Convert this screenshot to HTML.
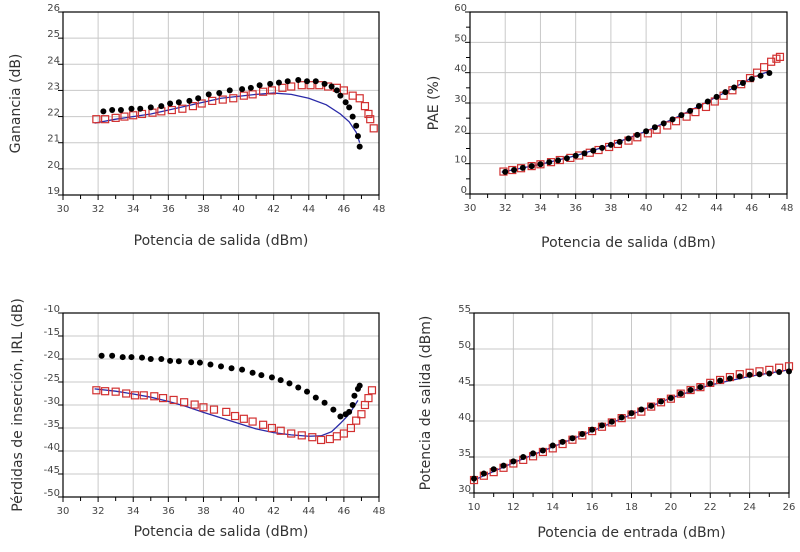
<!DOCTYPE html>
<html><head><meta charset="utf-8"><style>
body{margin:0;background:#fff;width:800px;height:547px;overflow:hidden;font-family:"Liberation Sans",sans-serif}
svg text{font-family:"DejaVu Sans","Liberation Sans",sans-serif}
</style></head><body>
<svg id="s" width="800" height="547"></svg>
<script>
// Chart 1: Ganancia
const c1Black=[[32.3,22.2],[32.8,22.25],[33.3,22.25],[33.9,22.3],[34.4,22.3],[35,22.35],[35.6,22.4],[36.1,22.5],[36.6,22.55],[37.2,22.6],[37.7,22.7],[38.3,22.85],[38.9,22.9],[39.5,23.0],[40.2,23.05],[40.7,23.1],[41.2,23.2],[41.8,23.25],[42.3,23.3],[42.8,23.35],[43.4,23.4],[43.9,23.35],[44.4,23.35],[44.9,23.25],[45.3,23.15],[45.6,23.0],[45.8,22.8],[46.1,22.55],[46.3,22.35],[46.5,22.0],[46.7,21.65],[46.8,21.25],[46.9,20.85]];
const c1Red=[[31.9,21.9],[32.4,21.9],[33,21.95],[33.5,22.0],[34,22.05],[34.5,22.1],[35.1,22.15],[35.6,22.2],[36.2,22.25],[36.8,22.3],[37.4,22.4],[37.9,22.5],[38.5,22.6],[39.1,22.65],[39.7,22.7],[40.3,22.8],[40.8,22.85],[41.4,22.95],[41.9,23.0],[42.5,23.1],[43,23.15],[43.6,23.2],[44.1,23.2],[44.6,23.2],[45.1,23.15],[45.6,23.1],[46,23.0],[46.5,22.8],[46.9,22.7],[47.2,22.4],[47.4,22.1],[47.5,21.9],[47.7,21.55]];
const c1Blue=[[31.8,21.75],[33,21.9],[35,22.1],[37,22.4],[39,22.7],[41,22.85],[42,22.9],[43,22.85],[44,22.7],[45,22.45],[45.8,22.1],[46.3,21.8],[46.7,21.4],[46.9,21.0]];
// Chart 2: PAE
const c2X=[32,32.5,33,33.5,34,34.5,35,35.5,36,36.5,37,37.5,38,38.5,39,39.5,40,40.5,41,41.5,42,42.5,43,43.5,44,44.5,45,45.5,46,46.5,47];
const c2Black=[7.3,7.9,8.6,9.2,9.8,10.5,11.1,11.8,12.6,13.4,14.3,15.2,16.2,17.2,18.3,19.5,20.7,22,23.3,24.6,26,27.4,29,30.5,32,33.6,35.1,36.6,37.9,39,39.9];
const c2Red=[[31.9,7.4],[32.4,7.9],[32.9,8.5],[33.5,9.2],[34,9.8],[34.6,10.5],[35.1,11.2],[35.7,11.9],[36.2,12.7],[36.8,13.6],[37.3,14.5],[37.9,15.5],[38.4,16.5],[39,17.6],[39.5,18.7],[40.1,20],[40.6,21.2],[41.2,22.6],[41.7,24],[42.3,25.5],[42.8,27],[43.4,28.7],[43.9,30.5],[44.4,32.4],[44.9,34.2],[45.4,36.2],[45.9,38.2],[46.3,40],[46.7,41.8],[47.1,43.6],[47.4,44.6],[47.6,45.2]];
const c2Blue=[[31.8,7.2],[34,9.8],[36,12.6],[38,16.2],[40,20.7],[42,26],[44,32],[45,35.1],[46,38.3],[47,40.5]];
// Chart 3: IRL
const c3Black=[[32.2,-19.3],[32.8,-19.3],[33.4,-19.6],[33.9,-19.6],[34.5,-19.7],[35,-20],[35.6,-20],[36.1,-20.4],[36.6,-20.5],[37.3,-20.7],[37.8,-20.8],[38.4,-21.2],[39,-21.6],[39.6,-22],[40.2,-22.3],[40.8,-23],[41.3,-23.5],[41.9,-24],[42.4,-24.6],[42.9,-25.3],[43.4,-26.2],[43.9,-27.1],[44.4,-28.4],[44.9,-29.5],[45.4,-31],[45.8,-32.5],[46.1,-32],[46.3,-31.5],[46.5,-30],[46.6,-28],[46.8,-26.5],[46.9,-25.8]];
const c3Red=[[31.9,-26.8],[32.4,-27],[33,-27.1],[33.6,-27.5],[34.1,-27.9],[34.6,-27.9],[35.2,-28.1],[35.7,-28.5],[36.3,-28.9],[36.9,-29.4],[37.5,-29.9],[38,-30.5],[38.6,-31],[39.3,-31.5],[39.8,-32.4],[40.3,-33],[40.8,-33.6],[41.4,-34.3],[41.9,-35],[42.4,-35.6],[43,-36.2],[43.6,-36.6],[44.2,-37],[44.7,-37.6],[45.2,-37.4],[45.6,-36.8],[46,-36.2],[46.4,-35],[46.7,-33.4],[47,-32],[47.2,-30],[47.4,-28.5],[47.6,-26.8]];
const c3Blue=[[31.8,-26.5],[33,-27],[34,-27.6],[35,-28.3],[36,-29.2],[37,-30.3],[38,-31.6],[39,-32.8],[40,-34],[41,-35.2],[42,-36],[43,-36.5],[44,-36.8],[44.7,-36.7],[45.3,-35.8],[45.8,-34],[46.3,-32],[46.8,-29]];
// Chart 4: Pout vs Pin
const c4X=[10,10.5,11,11.5,12,12.5,13,13.5,14,14.5,15,15.5,16,16.5,17,17.5,18,18.5,19,19.5,20,20.5,21,21.5,22,22.5,23,23.5,24,24.5,25,25.5,26];
const c4Black=[32,32.7,33.3,33.8,34.4,35,35.5,35.9,36.6,37.1,37.6,38.2,38.8,39.4,39.9,40.5,41.1,41.6,42.1,42.7,43.2,43.8,44.3,44.7,45.2,45.6,45.9,46.2,46.4,46.5,46.6,46.8,46.9];
const c4Red=[31.8,32.4,32.9,33.5,34.1,34.6,35.1,35.7,36.2,36.8,37.4,38,38.6,39.2,39.8,40.4,40.9,41.3,42,42.6,43.1,43.8,44.3,44.7,45.3,45.7,46.1,46.5,46.7,46.9,47.1,47.4,47.6];
const c4Blue=[[10,31.8],[12,34.2],[14,36.4],[16,38.6],[18,40.9],[20,43.2],[22,45],[24,46.2],[26,47.1]];

const xt1=[30,32,34,36,38,40,42,44,46,48];
const xt4=[10,12,14,16,18,20,22,24,26];
const yt1=[19,20,21,22,23,24,25,26];
const yt2=[0,10,20,30,40,50,60];
const yt3=[-10,-15,-20,-25,-30,-35,-40,-45,-50];
const yt4=[30,35,40,45,50,55];

const S=document.getElementById('s');const NS='http://www.w3.org/2000/svg';
function mk(t,a,p){const e=document.createElementNS(NS,t);for(const k in a)e.setAttribute(k,a[k]);(p||S).appendChild(e);return e;}

function chart(name,box,xr,yr,xticks,yticks,yminor,xlab,ylab,ylx,xly,black,red,blue){
  const g=mk('g',{});
  
  
  const [L,T,R,B]=box;
  const X=v=>L+(v-xr[0])/(xr[1]-xr[0])*(R-L);
  const Y=v=>B-(v-yr[0])/(yr[1]-yr[0])*(B-T);
  mk('rect',{x:L,y:T,width:R-L,height:B-T,fill:'#fff'},g);
  const grid=mk('g',{},g);
  
  
  xticks.forEach(v=>mk('line',{x1:X(v),x2:X(v),y1:T,y2:B,stroke:'#c8c8c8','stroke-width':1},grid));
  yticks.forEach(v=>mk('line',{x1:L,x2:R,y1:Y(v),y2:Y(v),stroke:'#c8c8c8','stroke-width':1},grid));
  const xa=mk('g',{},g);
  
  
  xticks.forEach((v,i)=>{
    mk('line',{x1:X(v),x2:X(v),y1:B,y2:B+5,stroke:'#000'},xa);
    if(i<xticks.length-1){const m=(v+xticks[i+1])/2;mk('line',{x1:X(m),x2:X(m),y1:B,y2:B+4,stroke:'#000'},xa);}
    const t=mk('text',{x:X(v),y:B+17,'font-size':10,'text-anchor':'middle',fill:'#444'},xa);t.textContent=v;
  });
  const ya=mk('g',{},g);
  
  
  yticks.forEach((v,i)=>{
    mk('line',{x1:L-5,x2:L,y1:Y(v),y2:Y(v),stroke:'#000'},ya);
    if(yminor&&i<yticks.length-1){const m=(v+yticks[i+1])/2;mk('line',{x1:L-4,x2:L,y1:Y(m),y2:Y(m),stroke:'#000'},ya);}
    const t=mk('text',{x:L-3,y:Y(v)-1,'font-size':10,'text-anchor':'end',fill:'#444'},ya);t.textContent=v;
  });
  mk('rect',{x:L,y:T,width:R-L,height:B-T,fill:'none',stroke:'#000','stroke-width':1.2},g);
  const xt=mk('text',{x:(L+R)/2,y:xly,'font-size':14,'text-anchor':'middle',fill:'#333'},g);
  
  
  xt.textContent=xlab;
  const yt=mk('text',{x:0,y:0,'font-size':14,'text-anchor':'middle',fill:'#333',transform:`translate(${ylx},${(T+B)/2}) rotate(-90)`},g);
  
  
  yt.textContent=ylab;
  const bl=mk('polyline',{points:blue.map(p=>X(p[0])+','+Y(p[1])).join(' '),fill:'none',stroke:'#2a2aa8','stroke-width':1.3},g);
  
  
  const rg=mk('g',{},g);
  
  
  red.forEach(p=>mk('rect',{x:X(p[0])-3.5,y:Y(p[1])-3.5,width:7,height:7,fill:'none',stroke:'#d23030','stroke-width':1.2},rg));
  const kg=mk('g',{},g);
  
  
  black.forEach(p=>mk('circle',{cx:X(p[0]),cy:Y(p[1]),r:3,fill:'#000'},kg));
}
chart('gain-chart',[63,12,379,195],[30,48],[19,26],xt1,yt1,false,'Potencia de salida (dBm)','Ganancia (dB)',20,245,c1Black,c1Red,c1Blue);
chart('pae-chart',[470,12,787,194],[30,48],[0,60],xt1,yt2,true,'Potencia de salida (dBm)','PAE (%)',438,247,c2X.map((x,i)=>[x,c2Black[i]]),c2Red,c2Blue);
chart('irl-chart',[63,313,379,497],[30,48],[-50,-10],xt1,yt3,false,'Potencia de salida (dBm)','Pérdidas de inserción, IRL (dB)',22,536,c3Black,c3Red,c3Blue);
chart('pout-chart',[474,313,789,493],[10,26],[30,55],xt4,yt4,false,'Potencia de entrada (dBm)','Potencia de salida (dBm)',430,537,c4X.map((x,i)=>[x,c4Black[i]]),c4X.map((x,i)=>[x,c4Red[i]]),c4Blue);
</script>
</body></html>
